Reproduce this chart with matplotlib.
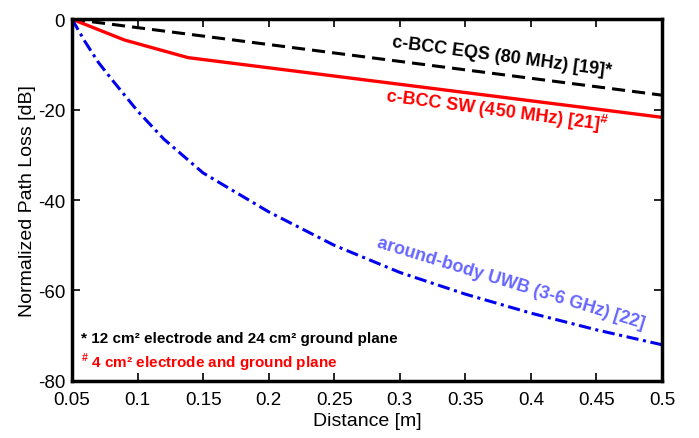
import matplotlib
matplotlib.use('Agg')
import matplotlib.pyplot as plt

# Data #
d_eqs = [0.05, 0.5]
pl_eqs = [0.0, -16.8]

d_sw = [0.05, 0.09, 0.1385, 0.5]
pl_sw = [0.0, -4.6, -8.5, -21.7]

d_uwb = [0.05, 0.06, 0.07, 0.08, 0.1, 0.12, 0.15, 0.2, 0.25, 0.3, 0.35, 0.4, 0.45, 0.5]
pl_uwb = [0.0, -5.0, -9.5, -13.2, -20.3, -26.5, -34.0, -42.6, -50.0, -56.0, -60.8, -65.0, -68.7, -72.0]

xticks = [0.05, 0.1, 0.15, 0.2, 0.25, 0.3, 0.35, 0.4, 0.45, 0.5]
xticklabels = ['0.05', '0.1', '0.15', '0.2', '0.25', '0.3', '0.35', '0.4', '0.45', '0.5']
yticks = [0, -20, -40, -60, -80]

plt.rcParams['font.family'] = ['Liberation Sans', 'DejaVu Sans']
plt.rcParams['axes.unicode_minus'] = False
plt.rcParams['mathtext.fontset'] = 'custom'
plt.rcParams['mathtext.rm'] = 'Liberation Sans'
plt.rcParams['mathtext.bf'] = 'Liberation Sans:bold'

fig = plt.figure(figsize=(6.99, 4.39), dpi=100)
ax = fig.add_axes([0.103, 0.130, 0.844, 0.824])

ax.plot(d_eqs, pl_eqs, color='black', lw=2.2, ls=(0, (4.3, 2.3)))
ax.plot(d_sw, pl_sw, color='#ff0000', lw=2.4)
ax.plot(d_uwb, pl_uwb, color='#0000ee', lw=2.2, ls=(0, (4, 1.5, 1, 1.5)))

ax.set_xlim(0.05, 0.5)
ax.set_ylim(-80, 0)
ax.set_xticks(xticks)
ax.set_xticklabels(xticklabels)
ax.set_yticks(yticks)
ax.tick_params(direction='in', top=True, right=True, length=6, width=1.2,
               labelsize=13.5)
ax.tick_params(axis='x', pad=7)
ax.tick_params(axis='y', pad=5)
for s in ax.spines.values():
    s.set_linewidth(2.5)

ax.set_xlabel('Distance [m]', fontsize=14, labelpad=3)
ax.set_ylabel('Normalized Path Loss [dB]', fontsize=14, labelpad=1)

# curve labels #
ax.text(0.378, -8.2, 'c-BCC EQS (80 MHz) [19]*', color='black', fontsize=13,
        fontweight='bold', rotation=-7.5, ha='center', va='center')
ax.text(0.374, -20.0, 'c-BCC SW (450 MHz) [21]$^{\\mathbf{\\#}}$', color='#ff0000',
        fontsize=13, fontweight='bold', rotation=-7.5, ha='center', va='center')
ax.text(0.385, -58.3, 'around-body UWB (3-6 GHz) [22]', color='#6666ff', fontsize=13,
        fontweight='bold', rotation=-17, ha='center', va='center')

# footnotes #
ax.text(0.057, -70.5, '* 12 cm² electrode and 24 cm² ground plane', color='black',
        fontsize=11, fontweight='bold', ha='left', va='center')
ax.text(0.057, -75.8, '$^{\\mathbf{\\#}}$ 4 cm² electrode and ground plane', color='#ff0000',
        fontsize=11, fontweight='bold', ha='left', va='center')

plt.savefig('out.png', dpi=100)
